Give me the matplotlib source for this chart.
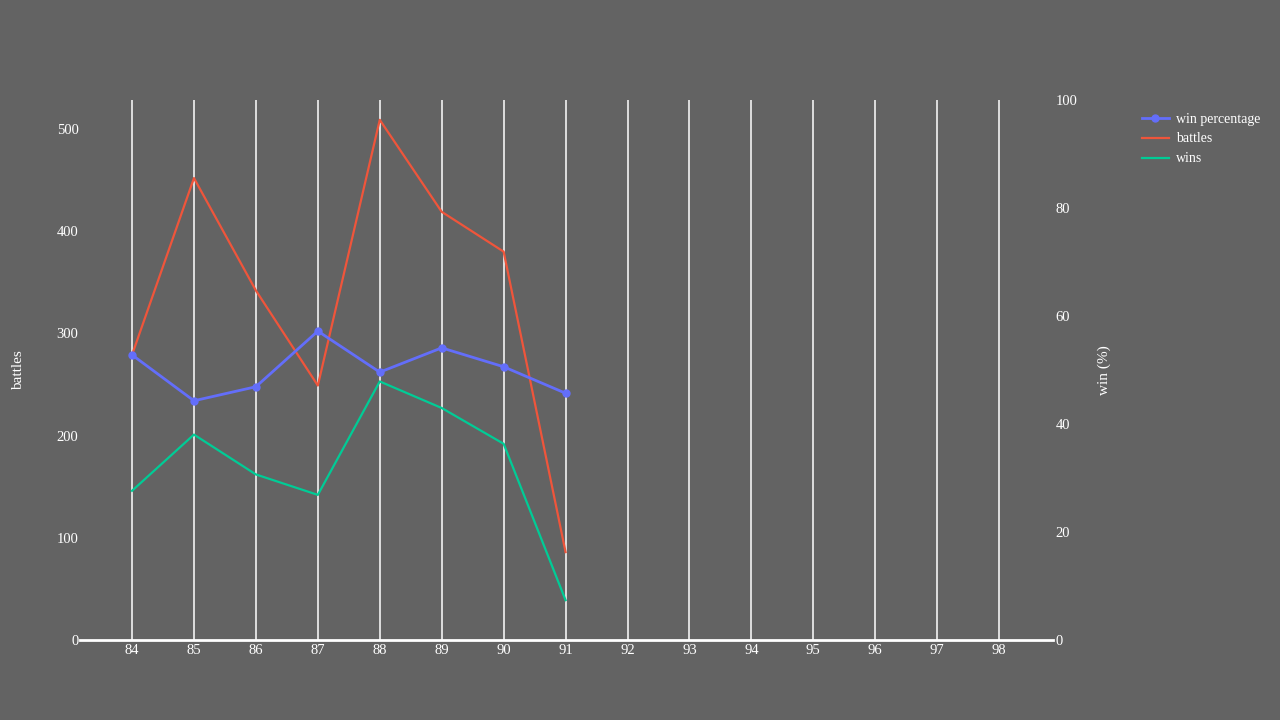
import matplotlib
matplotlib.use("Agg")
import matplotlib.pyplot as plt

seasons = [84, 85, 86, 87, 88, 89, 90, 91]
battles = [279, 452, 342, 249, 509, 419, 380, 86]
wins = [146, 201, 162, 142, 253, 227, 192, 39]
win_pct = [52.8, 44.3, 46.9, 57.2, 49.6, 54.1, 50.6, 45.7]
xticks = list(range(84, 99))
left_ticks = [0, 100, 200, 300, 400, 500]
right_ticks = [0, 20, 40, 60, 80, 100]

BG = "#636363"
plt.rcParams['font.family'] = ['Liberation Serif', 'DejaVu Serif']

fig = plt.figure(figsize=(12.8, 7.2), dpi=100, facecolor=BG)
ax = fig.add_axes([80/1280, 80/720, (1053-80)/1280, 540/720])
ax.set_facecolor(BG)
ax2 = ax.twinx()

ax.set_xlim(83.16, 98.87)
ax.set_ylim(0, 528.4)
ax2.set_ylim(0, 100)

for xv in xticks:
    ax.axvline(xv, color="white", lw=1.1, zorder=0)

l_b, = ax.plot(seasons, battles, color="#EF553B", lw=1.6, zorder=3)
l_w, = ax.plot(seasons, wins, color="#00CC96", lw=1.6, zorder=3)
l_p, = ax2.plot(seasons, win_pct, color="#636EFA", lw=2, marker="o", ms=5, zorder=4)

for a in (ax, ax2):
    for s in a.spines.values():
        s.set_visible(False)
ax.spines['bottom'].set_visible(True)
ax.spines['bottom'].set_color("white")
ax.spines['bottom'].set_linewidth(2)

ax.set_xticks(xticks)
ax.set_xticklabels([str(x) for x in xticks])
ax.set_yticks(left_ticks)
ax2.set_yticks(right_ticks)
ax.tick_params(axis='x', length=0, pad=3, colors="white", labelsize=10.5)
ax.tick_params(axis='y', length=0, pad=1, colors="white", labelsize=10.5)
ax2.tick_params(axis='y', length=0, pad=2, colors="white", labelsize=10.5)

ax.set_ylabel("battles", color="white", fontsize=11)
ax2.set_ylabel("win (%)", color="white", fontsize=11)
ax.yaxis.set_label_coords((25-80)/973, (640-370)/540)
ax2.yaxis.set_label_coords((1098-80)/973, (640-370)/540)

leg = fig.legend([l_p, l_b, l_w], ["win percentage", "battles", "wins"],
                 loc="upper left", bbox_to_anchor=(1129/1280, 1-100/720),
                 frameon=False, fontsize=10, labelcolor="white",
                 handlelength=2.0, handletextpad=0.5, labelspacing=0.5)

fig.savefig("out.png", dpi=100, facecolor=BG)
